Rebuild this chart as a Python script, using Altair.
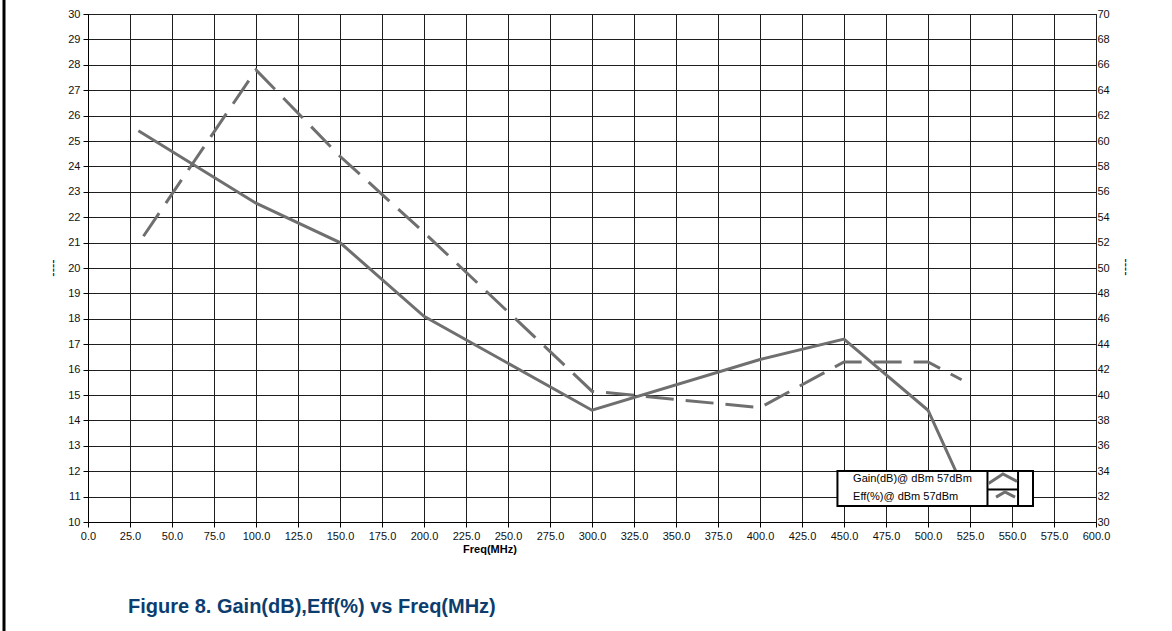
import altair as alt
import pandas as pd

# Gain (dB) and drain efficiency (%) measured at 57 dBm output
freq_gain = [30, 100, 150, 200, 300, 400, 450, 500, 520]
gain_db = [25.4, 22.55, 21.0, 18.1, 14.4, 16.4, 17.2, 14.4, 11.5]
freq_eff = [33, 100, 150, 200, 300, 400, 450, 500, 520]
eff_pct = [52.5, 65.6, 58.8, 52.8, 40.3, 39.0, 42.6, 42.6, 41.2]

x_ticks = [0, 25, 50, 75, 100, 125, 150, 175, 200, 225, 250, 275, 300, 325,
           350, 375, 400, 425, 450, 475, 500, 525, 550, 575, 600]
gain_ticks = list(range(10, 31))
eff_ticks = list(range(30, 71, 2))

legend_labels = ["Gain(dB)@ dBm 57dBm", "Eff(%)@ dBm 57dBm"]

FONT = "Liberation Sans"
LINE_COLOR = "#6f6f6f"

gain_df = pd.DataFrame({"freq": freq_gain, "gain": gain_db})
eff_df = pd.DataFrame({"freq": freq_eff, "eff": eff_pct})

x_scale = alt.Scale(domain=[0, 600], nice=False, zero=False)
g_scale = alt.Scale(domain=[10, 30], nice=False, zero=False)
e_scale = alt.Scale(domain=[30, 70], nice=False, zero=False)

# One shared bottom axis definition, used by every layer on the frequency scale
x_axis = alt.Axis(values=x_ticks, format=".1f", title=None, grid=True,
                  tickSize=5, labelPadding=3, labelFlush=False)


def xq(field):
    return alt.X(f"{field}:Q", scale=x_scale, axis=x_axis)


gain_line = alt.Chart(gain_df).mark_line(color=LINE_COLOR, strokeWidth=3).encode(
    x=xq("freq"),
    y=alt.Y("gain:Q", scale=g_scale,
            axis=alt.Axis(values=gain_ticks, format="d", title=None, grid=True,
                          tickSize=5, labelPadding=3, labelFlush=False)),
)

eff_line = alt.Chart(eff_df).mark_line(
    color=LINE_COLOR, strokeWidth=3, strokeDash=[28, 12]
).encode(
    x=xq("freq"),
    y=alt.Y("eff:Q", scale=e_scale,
            axis=alt.Axis(orient="right", values=eff_ticks, format="d", title=None,
                          grid=False, tickSize=0, labelPadding=1, domain=False,
                          labelFlush=False)),
)

# Plot legend box drawn inside the plot area (in Freq / Gain units)
box_df = pd.DataFrame({"x0": [446.1], "x1": [562.5], "y0": [10.63], "y1": [12.01]})
legend_box = alt.Chart(box_df).mark_rect(fill="white", stroke="black", strokeWidth=2).encode(
    x=xq("x0"), x2="x1:Q",
    y=alt.Y("y0:Q", scale=g_scale, axis=None), y2="y1:Q",
)

div_df = pd.DataFrame({
    "x0": [535.4, 553.6, 535.4],
    "x1": [535.4, 553.6, 553.6],
    "y0": [10.63, 10.63, 11.28],
    "y1": [12.01, 12.01, 11.28],
})
legend_div = alt.Chart(div_df).mark_rule(color="black", strokeWidth=2).encode(
    x=xq("x0"), x2="x1:Q",
    y=alt.Y("y0:Q", scale=g_scale, axis=None), y2="y1:Q",
)

icon_df = pd.DataFrame({
    "grp": ["g", "g", "g", "e", "e", "e"],
    "ord": [0, 1, 2, 0, 1, 2],
    "x": [536.0, 544.6, 553.0, 540.5, 545.8, 551.8],
    "y": [11.52, 11.89, 11.60, 10.98, 11.18, 10.98],
})
legend_icons = alt.Chart(icon_df).mark_line(color=LINE_COLOR, strokeWidth=3).encode(
    x=xq("x"),
    y=alt.Y("y:Q", scale=g_scale, axis=None),
    detail="grp:N",
    order="ord:Q",
)

lab_df = pd.DataFrame({"x": [455.4, 455.4], "y": [11.69, 10.98], "t": legend_labels})
legend_text = alt.Chart(lab_df).mark_text(
    align="left", baseline="middle", font=FONT, fontSize=11, color="black"
).encode(
    x=xq("x"),
    y=alt.Y("y:Q", scale=g_scale, axis=None),
    text="t:N",
)

# Axis title, side markers, caption and page frame
x_title = alt.Chart(pd.DataFrame({"t": ["Freq(MHz)"]})).mark_text(
    font=FONT, fontSize=11, fontWeight="bold", color="black", baseline="middle"
).encode(x=alt.value(402), y=alt.value(536), text="t:N")

side_df = pd.DataFrame({"t": ["----"]})
left_mark = alt.Chart(side_df).mark_text(
    font=FONT, fontSize=13, color="black", angle=270, baseline="middle"
).encode(x=alt.value(-35), y=alt.value(254), text="t:N")
right_mark = alt.Chart(side_df).mark_text(
    font=FONT, fontSize=13, color="black", angle=270, baseline="middle"
).encode(x=alt.value(1037), y=alt.value(253), text="t:N")

caption = alt.Chart(pd.DataFrame({"t": ["Figure 8. Gain(dB),Eff(%) vs Freq(MHz)"]})).mark_text(
    font=FONT, fontSize=20, fontWeight="bold", color="#0c3d6f", align="left", baseline="middle"
).encode(x=alt.value(40), y=alt.value(593), text="t:N")

frame = alt.Chart(pd.DataFrame({"a": [0]})).mark_rule(color="black", strokeWidth=3).encode(
    x=alt.value(-84), y=alt.value(-14), y2=alt.value(617)
)

chart = alt.layer(
    gain_line, eff_line, legend_box, legend_div, legend_icons, legend_text,
    x_title, left_mark, right_mark, caption, frame,
).resolve_scale(y="independent").properties(
    width=1008, height=508,
    autosize=alt.AutoSizeParams(type="none"),
    padding={"left": 88, "top": 14, "right": 76, "bottom": 109},
    background="white",
).configure_view(
    stroke="black", strokeWidth=1
).configure_axis(
    labelFont=FONT, labelFontSize=11, labelColor="#111111",
    domainColor="black", tickColor="black", gridColor="#1e1e1e",
    gridOpacity=1, gridWidth=1, domainWidth=1,
)

chart.save("out.html", embed_options={"renderer": "svg", "actions": False})
